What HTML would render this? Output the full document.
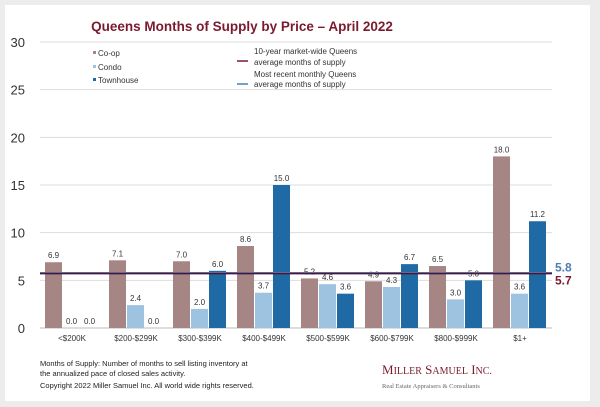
<!DOCTYPE html>
<html><head><meta charset="utf-8"><style>
body{margin:0;background:#ececec;font-family:"Liberation Sans",sans-serif;}
#wrap{position:relative;width:600px;height:407px;overflow:hidden;}
#card{position:absolute;left:5px;top:5px;width:585px;height:396px;background:#fff;}
</style></head><body>
<div id="wrap">
<div id="card"></div>
<svg id="svg" width="600" height="407" style="position:absolute;left:0;top:0">
<text x="242" y="31" text-anchor="middle" font-size="13.5" font-weight="bold" fill="#7a1a2e">Queens Months of Supply by Price – April 2022</text>
<g id="grid"></g><g id="bars"></g><g id="labels"></g>
<g font-size="8" fill="#333">
<rect x="93" y="51" width="3" height="3" fill="#a68585"/><text x="98" y="56">Co-op</text>
<rect x="93" y="65" width="3" height="3" fill="#9dc3e0"/><text x="98" y="70">Condo</text>
<rect x="93" y="78" width="3" height="3" fill="#1f6aa5"/><text x="98" y="83">Townhouse</text>
<line x1="237" y1="61" x2="248" y2="61" stroke="#7a1a2e" stroke-width="1.5"/>
<text x="254" y="54">10-year market-wide Queens</text><text x="254" y="65">average months of supply</text>
<line x1="237" y1="84" x2="248" y2="84" stroke="#4a7fb0" stroke-width="1.5"/>
<text x="254" y="77">Most recent monthly Queens</text><text x="254" y="87">average months of supply</text>
</g>
<g font-size="7.5" fill="#222">
<text x="40" y="366">Months of Supply: Number of months to sell listing inventory at</text>
<text x="40" y="376">the annualized pace of closed sales activity.</text>
<text x="40" y="388">Copyright 2022 Miller Samuel Inc.  All world wide rights reserved.</text>
</g>
<text x="382" y="374" font-family="Liberation Serif,serif" font-size="13" fill="#7a1a2e">M<tspan font-size="10">ILLER</tspan> S<tspan font-size="10">AMUEL</tspan> I<tspan font-size="10">NC.</tspan></text>
<text x="382" y="388" font-family="Liberation Serif,serif" font-size="6.5" fill="#666">Real Estate Appraisers &amp; Consultants</text>
</svg>
</div>
<script>
const categories=["<$200K","$200-$299K","$300-$399K","$400-$499K","$500-$599K","$600-$799K","$800-$999K","$1+"];
const coop=[6.9,7.1,7.0,8.6,5.2,4.9,6.5,18.0];
const condo=[0.0,2.4,2.0,3.7,4.6,4.3,3.0,3.6];
const townhouse=[0.0,0.0,6.0,15.0,3.6,6.7,5.0,11.2];
const yTicks=[0,5,10,15,20,25,30];
const tenYearAvg=5.7, recentAvg=5.8;
const NS="http://www.w3.org/2000/svg";
const x0=40,x1=552,yTop=42,yBot=328,yMax=30;
const y=v=>yBot-(v/yMax)*(yBot-yTop);
const gw=(x1-x0)/categories.length;
function mk(tag,attrs,parent){const e=document.createElementNS(NS,tag);for(const k in attrs)e.setAttribute(k,attrs[k]);parent.appendChild(e);return e;}
const grid=document.getElementById('grid'),bars=document.getElementById('bars'),labels=document.getElementById('labels');
yTicks.forEach(t=>{
  const l=mk('line',{x1:x0,x2:x1,y1:y(t),y2:y(t),stroke:t===0?'#bbb':'#ddd','stroke-width':1},grid);
  
  
  const tx=mk('text',{x:25,y:y(t)+5,'text-anchor':'end','font-size':13,fill:'#333'},grid);tx.textContent=t;
  
  
});
const series=[[coop,'#a68585','coop'],[condo,'#9dc3e0','condo'],[townhouse,'#1f6aa5','townhouse']];
categories.forEach((c,i)=>{
  const gx=x0+i*gw;
  series.forEach(([arr,col,nm],j)=>{
    const bx=gx+5+j*18,v=arr[i];
    const r=mk('rect',{x:bx,y:y(v),width:17,height:yBot-y(v),fill:col},bars);
    
    
    const t=mk('text',{x:bx+8.5,y:y(v)-4,'text-anchor':'middle','font-size':8,fill:'#333'},labels);t.textContent=v.toFixed(1);
    
    
  });
  const t=mk('text',{x:gx+gw/2,y:341,'text-anchor':'middle','font-size':8,fill:'#333'},labels);t.textContent=c;
  
  
});
const l1=mk('line',{x1:x0,x2:x1,y1:y(recentAvg),y2:y(recentAvg),stroke:'#4a7fb0','stroke-width':1.5},labels);


const l2=mk('line',{x1:x0,x2:x1,y1:y(tenYearAvg),y2:y(tenYearAvg),stroke:'#5a1030','stroke-width':1.5},labels);


const t1=mk('text',{x:555,y:y(recentAvg)-1,'font-size':12,'font-weight':'bold',fill:'#4a7fb0'},labels);t1.textContent=recentAvg.toFixed(1);


const t2=mk('text',{x:555,y:y(tenYearAvg)+11,'font-size':12,'font-weight':'bold',fill:'#7a1a2e'},labels);t2.textContent=tenYearAvg.toFixed(1);


</script>
</body></html>
